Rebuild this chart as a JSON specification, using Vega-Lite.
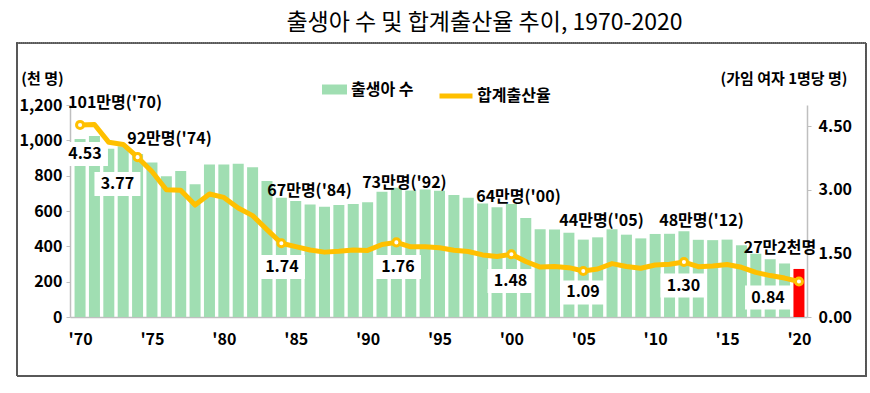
{
  "$schema": "https://vega.github.io/schema/vega-lite/v6.json",
  "autosize": "none",
  "width": 737,
  "height": 212,
  "padding": {"left": 70, "top": 105, "right": 63, "bottom": 76},
  "background": "white",
  "config": {
    "font": "Noto Sans CJK KR",
    "view": {"stroke": null},
    "scale": {"continuousPadding": 0},
    "axisBottom": {
      "ticks": false, "grid": false,
      "domainColor": "#bfbfbf", "domainWidth": 1.5,
      "labelFontSize": 16, "labelFontWeight": "bold", "labelColor": "#000000",
      "labelPadding": 14, "labelFlush": false
    },
    "axisLeft": {
      "grid": false,
      "domainColor": "#bfbfbf", "domainWidth": 1.5,
      "tickColor": "#bfbfbf", "tickSize": 4,
      "labelPadding": 4, "labelFontSize": 16, "labelFontWeight": "bold", "labelColor": "#000000",
      "titleAngle": 0, "titleX": -28, "titleY": -27, "titleAlign": "center", "titleBaseline": "middle",
      "titleFontSize": 15, "titleFontWeight": "bold", "titleColor": "#000000"
    },
    "axisRight": {
      "grid": false,
      "domainColor": "#bfbfbf", "domainWidth": 1.5,
      "tickColor": "#bfbfbf", "tickSize": 4,
      "labelPadding": 7, "labelFontSize": 16, "labelFontWeight": "bold", "labelColor": "#000000",
      "titleAngle": 0, "titleX": 40, "titleY": -27, "titleAlign": "right", "titleBaseline": "middle",
      "titleFontSize": 15, "titleFontWeight": "bold", "titleColor": "#000000"
    }
  },
  "title": {
    "text": "출생아 수 및 합계출산율 추이, 1970-2020",
    "font": "Noto Sans CJK KR",
    "fontSize": 23,
    "fontWeight": "normal",
    "color": "#000000",
    "anchor": "middle",
    "dx": 46,
    "dy": -7,
    "offset": 0
  },
  "datasets": {
    "births": [
      {"year": 1970, "births": 1007, "tfr": 4.53},
      {"year": 1971, "births": 1025, "tfr": 4.54},
      {"year": 1972, "births": 953, "tfr": 4.12},
      {"year": 1973, "births": 966, "tfr": 4.07},
      {"year": 1974, "births": 923, "tfr": 3.77},
      {"year": 1975, "births": 875, "tfr": 3.43},
      {"year": 1976, "births": 797, "tfr": 3.00},
      {"year": 1977, "births": 826, "tfr": 2.99},
      {"year": 1978, "births": 751, "tfr": 2.64},
      {"year": 1979, "births": 863, "tfr": 2.90},
      {"year": 1980, "births": 863, "tfr": 2.82},
      {"year": 1981, "births": 867, "tfr": 2.57},
      {"year": 1982, "births": 848, "tfr": 2.39},
      {"year": 1983, "births": 770, "tfr": 2.06},
      {"year": 1984, "births": 675, "tfr": 1.74},
      {"year": 1985, "births": 656, "tfr": 1.66},
      {"year": 1986, "births": 637, "tfr": 1.58},
      {"year": 1987, "births": 624, "tfr": 1.53},
      {"year": 1988, "births": 634, "tfr": 1.55},
      {"year": 1989, "births": 640, "tfr": 1.58},
      {"year": 1990, "births": 650, "tfr": 1.57},
      {"year": 1991, "births": 709, "tfr": 1.71},
      {"year": 1992, "births": 731, "tfr": 1.76},
      {"year": 1993, "births": 716, "tfr": 1.654},
      {"year": 1994, "births": 721, "tfr": 1.656},
      {"year": 1995, "births": 715, "tfr": 1.634},
      {"year": 1996, "births": 691, "tfr": 1.574},
      {"year": 1997, "births": 675, "tfr": 1.544},
      {"year": 1998, "births": 642, "tfr": 1.464},
      {"year": 1999, "births": 621, "tfr": 1.425},
      {"year": 2000, "births": 640, "tfr": 1.48},
      {"year": 2001, "births": 560, "tfr": 1.309},
      {"year": 2002, "births": 497, "tfr": 1.178},
      {"year": 2003, "births": 495, "tfr": 1.191},
      {"year": 2004, "births": 477, "tfr": 1.164},
      {"year": 2005, "births": 438, "tfr": 1.085},
      {"year": 2006, "births": 451, "tfr": 1.132},
      {"year": 2007, "births": 497, "tfr": 1.259},
      {"year": 2008, "births": 466, "tfr": 1.192},
      {"year": 2009, "births": 445, "tfr": 1.149},
      {"year": 2010, "births": 470, "tfr": 1.226},
      {"year": 2011, "births": 471, "tfr": 1.244},
      {"year": 2012, "births": 485, "tfr": 1.297},
      {"year": 2013, "births": 437, "tfr": 1.187},
      {"year": 2014, "births": 435, "tfr": 1.205},
      {"year": 2015, "births": 438, "tfr": 1.239},
      {"year": 2016, "births": 406, "tfr": 1.172},
      {"year": 2017, "births": 358, "tfr": 1.052},
      {"year": 2018, "births": 327, "tfr": 0.977},
      {"year": 2019, "births": 303, "tfr": 0.918},
      {"year": 2020, "births": 272, "tfr": 0.837}
    ],
    "countLabels": [
      {"lx": 1972.43, "ly": 1211, "label": "101만명('70)"},
      {"lx": 1976.22, "ly": 1007, "label": "92만명('74)"},
      {"lx": 1985.96, "ly": 713, "label": "67만명('84)"},
      {"lx": 1992.56, "ly": 756, "label": "73만명('92)"},
      {"lx": 2000.49, "ly": 679, "label": "64만명('00)"},
      {"lx": 2006.27, "ly": 543, "label": "44만명('05)"},
      {"lx": 2013.22, "ly": 543, "label": "48만명('12)"},
      {"lx": 2018.68, "ly": 393, "label": "27만2천명"}
    ],
    "tfrLabels": [
      {"lx": 1970.34, "ly": 923, "label": "4.53"},
      {"lx": 1972.6, "ly": 753, "label": "3.77"},
      {"lx": 1984.04, "ly": 283, "label": "1.74"},
      {"lx": 1992.11, "ly": 283, "label": "1.76"},
      {"lx": 1999.94, "ly": 204, "label": "1.48"},
      {"lx": 2004.98, "ly": 139, "label": "1.09"},
      {"lx": 2011.97, "ly": 178, "label": "1.30"},
      {"lx": 2017.85, "ly": 110, "label": "0.84"}
    ]
  },
  "resolve": {"scale": {"y": "independent"}},
  "layer": [
    {
      "layer": [
        {
          "data": {"name": "births"},
          "mark": {"type": "rect", "fill": null, "stroke": "#595959", "strokeWidth": 1, "strokeDash": [1, 1]},
          "encoding": {
            "x": {"datum": 1965.61, "type": "quantitative", "scale": {"domain": [1969.3, 2020.56], "nice": false, "zero": false, "padding": 0},
                  "axis": {"title": null, "values": [1970, 1975, 1980, 1985, 1990, 1995, 2000, 2005, 2010, 2015, 2020], "labelExpr": "\"'\" + substring(toString(datum.value), 2)"}},
            "x2": {"datum": 2024.67},
            "y": {"datum": 1551, "type": "quantitative", "scale": {"domain": [0, 1200], "nice": false, "padding": 0},
                  "axis": {"title": "(천 명)", "values": [0, 200, 400, 600, 800, 1000, 1200], "format": ",.0f"}},
            "y2": {"datum": -334}
          }
        },
        {
          "data": {"name": "births"},
          "mark": {"type": "bar", "width": 11},
          "encoding": {
            "x": {"field": "year", "type": "quantitative", "scale": {"domain": [1969.3, 2020.56], "nice": false, "zero": false, "padding": 0},
                  "axis": {"title": null, "values": [1970, 1975, 1980, 1985, 1990, 1995, 2000, 2005, 2010, 2015, 2020], "labelExpr": "\"'\" + substring(toString(datum.value), 2)"}},
            "y": {"field": "births", "type": "quantitative", "scale": {"domain": [0, 1200], "nice": false, "padding": 0},
                  "axis": {"title": "(천 명)", "values": [0, 200, 400, 600, 800, 1000, 1200], "format": ",.0f"}},
            "fill": {
              "condition": {"test": "datum.year === 2020", "value": "#ff0000"},
              "datum": "출생아 수",
              "type": "nominal",
              "scale": {"domain": ["출생아 수"], "range": ["#a0deb2"]},
              "legend": {
                "title": null, "orient": "none", "legendX": 252, "legendY": -28,
                "symbolType": "M-1,-0.4H1V0.4H-1Z", "symbolSize": 625, "symbolStrokeWidth": 0,
                "labelFontSize": 16, "labelFontWeight": "bold", "labelColor": "#000000", "labelOffset": 4
              }
            }
          }
        },
        {
          "data": {"name": "tfrLabels"},
          "mark": {"type": "point", "shape": "M-1,-0.52H1V0.52H-1Z", "size": 2116, "filled": true, "fill": "white", "opacity": 1, "strokeWidth": 0},
          "encoding": {
            "x": {"field": "lx", "type": "quantitative",
                  "axis": {"title": null, "values": [1970, 1975, 1980, 1985, 1990, 1995, 2000, 2005, 2010, 2015, 2020], "labelExpr": "\"'\" + substring(toString(datum.value), 2)"}},
            "y": {"field": "ly", "type": "quantitative",
                  "axis": {"title": "(천 명)", "values": [0, 200, 400, 600, 800, 1000, 1200], "format": ",.0f"}}
          }
        },
        {
          "data": {"name": "countLabels"},
          "mark": {"type": "text", "fontSize": 16, "fontWeight": "bold", "color": "#000000", "align": "center", "baseline": "middle"},
          "encoding": {
            "x": {"field": "lx", "type": "quantitative",
                  "axis": {"title": null, "values": [1970, 1975, 1980, 1985, 1990, 1995, 2000, 2005, 2010, 2015, 2020], "labelExpr": "\"'\" + substring(toString(datum.value), 2)"}},
            "y": {"field": "ly", "type": "quantitative",
                  "axis": {"title": "(천 명)", "values": [0, 200, 400, 600, 800, 1000, 1200], "format": ",.0f"}},
            "text": {"field": "label"}
          }
        },
        {
          "data": {"name": "tfrLabels"},
          "mark": {"type": "text", "fontSize": 16, "fontWeight": "bold", "color": "#000000", "align": "center", "baseline": "middle"},
          "encoding": {
            "x": {"field": "lx", "type": "quantitative",
                  "axis": {"title": null, "values": [1970, 1975, 1980, 1985, 1990, 1995, 2000, 2005, 2010, 2015, 2020], "labelExpr": "\"'\" + substring(toString(datum.value), 2)"}},
            "y": {"field": "ly", "type": "quantitative",
                  "axis": {"title": "(천 명)", "values": [0, 200, 400, 600, 800, 1000, 1200], "format": ",.0f"}},
            "text": {"field": "label"}
          }
        }
      ]
    },
    {
      "layer": [
        {
          "data": {"name": "births"},
          "mark": {"type": "line", "strokeWidth": 5, "strokeJoin": "round", "strokeCap": "round"},
          "encoding": {
            "x": {"field": "year", "type": "quantitative",
                  "axis": {"title": null, "values": [1970, 1975, 1980, 1985, 1990, 1995, 2000, 2005, 2010, 2015, 2020], "labelExpr": "\"'\" + substring(toString(datum.value), 2)"}},
            "y": {"field": "tfr", "type": "quantitative", "scale": {"domain": [0, 5], "nice": false},
                  "axis": {"orient": "right", "title": "(가임 여자 1명당 명)", "values": [0, 1.5, 3, 4.5], "format": ".2f"}},
            "stroke": {
              "datum": "합계출산율",
              "type": "nominal",
              "scale": {"domain": ["합계출산율"], "range": ["#ffc000"]},
              "legend": {
                "title": null, "orient": "none", "legendX": 367, "legendY": -28,
                "symbolType": "stroke", "symbolSize": 1089, "symbolStrokeWidth": 5,
                "labelFontSize": 16, "labelFontWeight": "bold", "labelColor": "#000000", "labelOffset": 2
              }
            }
          }
        },
        {
          "data": {"name": "births"},
          "transform": [{"filter": {"field": "year", "oneOf": [1970, 1974, 1984, 1992, 2000, 2005, 2012, 2020]}}],
          "mark": {"type": "point", "filled": true, "fill": "white", "stroke": "#ffc000", "strokeWidth": 3, "size": 50, "opacity": 1},
          "encoding": {
            "x": {"field": "year", "type": "quantitative",
                  "axis": {"title": null, "values": [1970, 1975, 1980, 1985, 1990, 1995, 2000, 2005, 2010, 2015, 2020], "labelExpr": "\"'\" + substring(toString(datum.value), 2)"}},
            "y": {"field": "tfr", "type": "quantitative",
                  "axis": {"orient": "right", "title": "(가임 여자 1명당 명)", "values": [0, 1.5, 3, 4.5], "format": ".2f"}}
          }
        }
      ]
    }
  ]
}
